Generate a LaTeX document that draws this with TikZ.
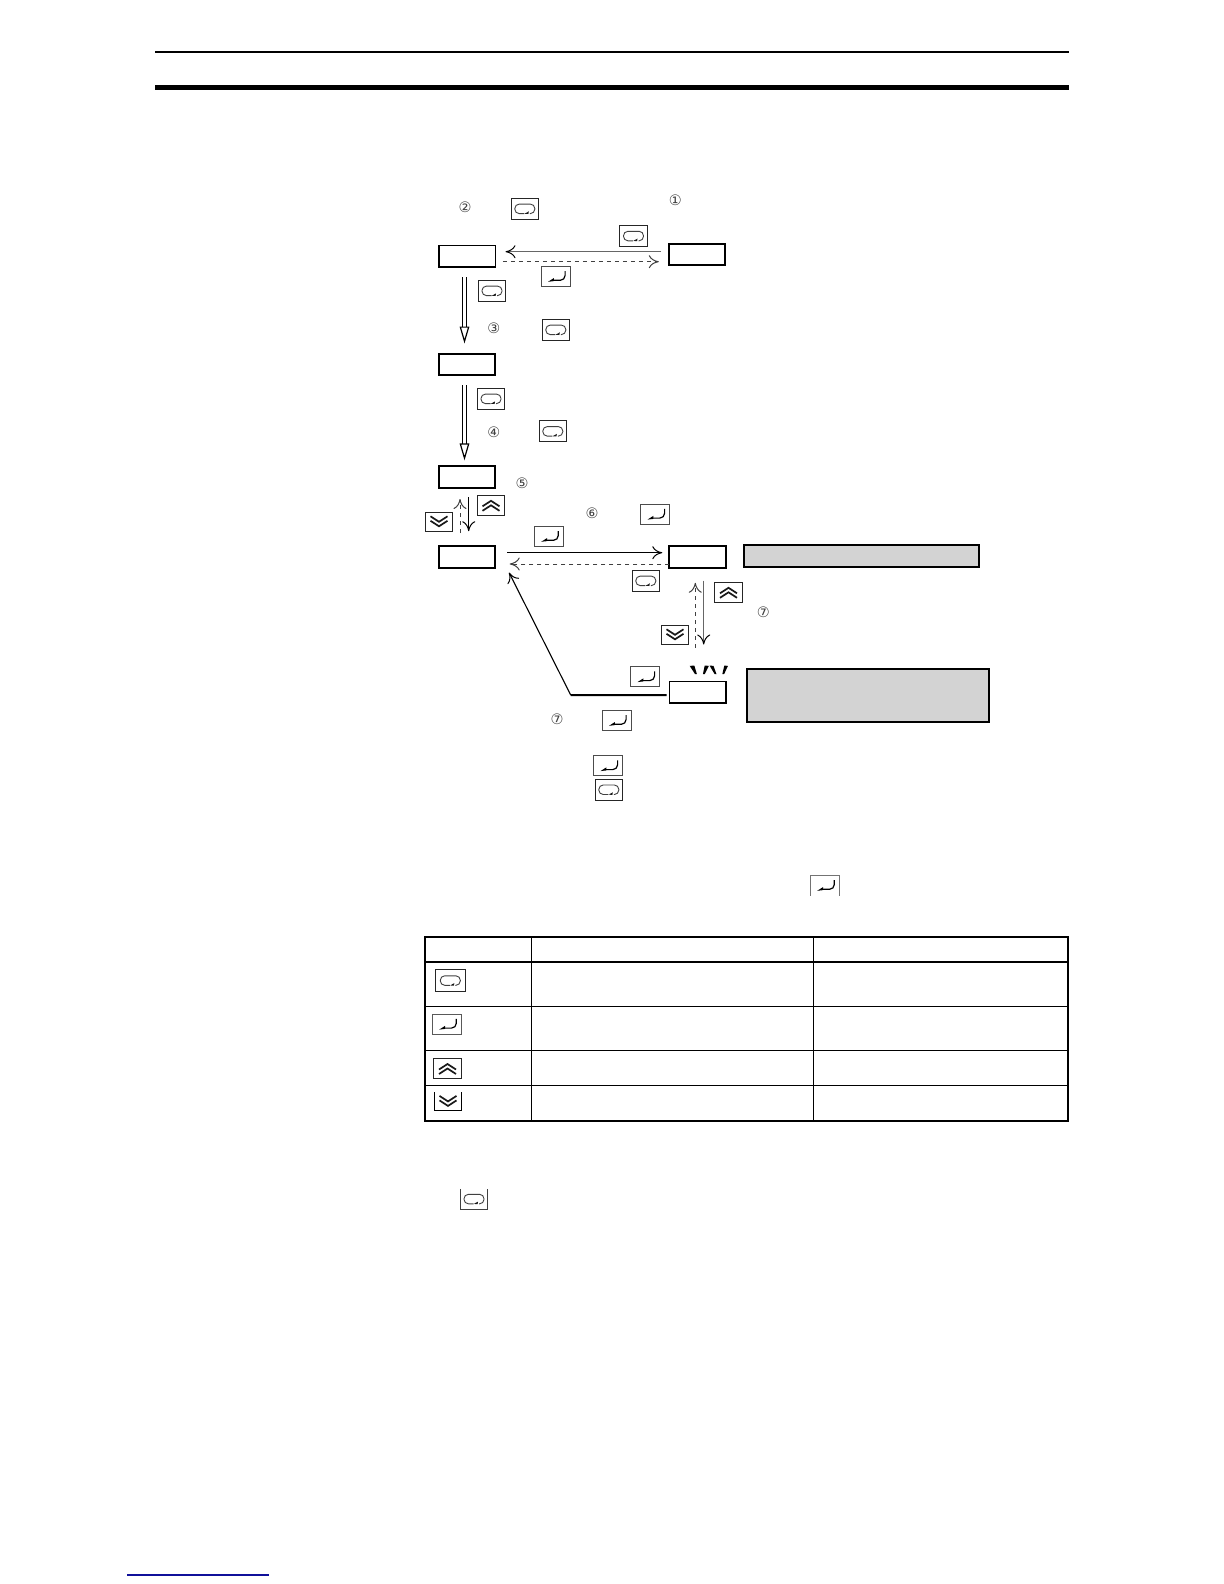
\documentclass[tikz,border=0pt]{standalone}
\usepackage{fontspec}
\newfontfamily\circfont{DejaVu Sans}
\usetikzlibrary{arrows.meta,calc}
\definecolor{panelgray}{HTML}{D3D3D3}
\definecolor{linkblue}{HTML}{10109A}
\tikzset{
  disp/.style={draw=black,line width=1pt,minimum width=28.2pt,minimum height=10.8pt,inner sep=0pt,outer sep=0pt,fill=white},
  panel/.style={draw=black,line width=1pt,fill=panelgray,inner sep=0pt,outer sep=0pt},
  keybox/.style={draw=black!85,line width=.5pt,inner sep=0pt,outer sep=0pt,minimum width=13.6pt,minimum height=10.4pt},
  keyopen/.style={inner sep=0pt,outer sep=0pt,minimum width=13.6pt,minimum height=10.4pt},
  keyedge/.style={draw=black!75,line width=.5pt},
  circnum/.style={inner sep=0pt,text=black!75,font=\circfont\fontsize{7.2pt}{8pt}\selectfont},
  solidflow/.style={draw=black,line width=.55pt,-{To[length=5pt,width=6.5pt,line width=.5pt]}},
  grayflow/.style={draw=black!60,line width=.75pt,-{To[length=5pt,width=6.5pt,black,line width=.5pt]}},
  dashflow/.style={draw=black!75,line width=.5pt,dash pattern=on 2.2pt off 1.8pt,-{To[length=5pt,width=6.5pt,line width=.5pt]}},
  hollowflow/.style={draw=black,line width=.55pt,double=white,double distance=1.7pt,-{Triangle[open,length=8.5pt,width=4.8pt,line width=.6pt,fill=white]}},
  tableouter/.style={draw=black,line width=.9pt},
  tableinner/.style={draw=black,line width=.5pt},
  modeglyph/.pic={
    \draw[black!75,line width=.45pt,rounded corners=2.2pt] (-.5,4.8)--(-10,4.8)--(-10,-4.7)--(10,-4.7)--(10,4.8)--(5,4.8);
    \fill[black!90] (-.2,4.9)--(4,2.6)--(3.6,5.2)--cycle;},
  enterglyph/.pic={
    \draw[black,line width=.6pt,rounded corners=2.4pt] (9.3,-5.5)--(9.3,3.8)--(-4,3.8);
    \fill[black] (-7.8,5.3)--(-2,1.6)--(-2,4.6)--cycle;},
  upglyph/.pic={
    \draw[black!90,line width=.85pt] (-8.5,1)--(0,-4.5)--(8.5,1);
    \draw[black!90,line width=.85pt] (-8.5,5.5)--(0,0)--(8.5,5.5);},
  downglyph/.pic={
    \draw[black!90,line width=.85pt] (-8.5,-5.5)--(0,0)--(8.5,-5.5);
    \draw[black!90,line width=.85pt] (-8.5,-1)--(0,4.5)--(8.5,-1);},
}
\newcommand{\modekey}[3]{\node[keybox] (#1) at (#2,#3) {}; \pic at (#1.center) {modeglyph};}
\newcommand{\enterkey}[3]{\node[keybox,draw=black!70,minimum width=14.4pt,minimum height=10pt] (#1) at (#2,#3) {}; \pic at (#1.center) {enterglyph};}
\newcommand{\upkey}[3]{\node[keybox,minimum width=13.9pt,minimum height=10pt] (#1) at (#2,#3) {}; \pic at (#1.center) {upglyph};}
\newcommand{\downkey}[3]{\node[keybox,minimum width=13.7pt,minimum height=9.6pt] (#1) at (#2,#3) {}; \pic at (#1.center) {downglyph};}
\begin{document}
\begin{tikzpicture}[x=.5pt,y=-.5pt]
\useasboundingbox (0,0) rectangle (1224,1584);
% page rules
\coordinate (ruleL) at (155,52);
\coordinate (ruleR) at (1069,52);
\draw[black,line width=1pt] (ruleL)--(ruleR);
\draw[black,line width=2.6pt] ($(ruleL)+(0,35.3)$)--($(ruleR)+(0,35.3)$);
% displays
\node[disp,line width=.7pt] (A) at (467,256.3) {};
\node[disp] (B) at (697,254.3) {};
\node[disp] (C) at (467,364.3) {};
\node[disp] (D) at (467,477.2) {};
\node[disp] (E) at (467,557) {};
\node[disp] (F) at (697.5,557) {};
\node[disp,line width=.8pt] (G) at (697.5,692.3) {};
% panels
\node[panel,minimum width=117.2pt,minimum height=11.2pt] (P1) at (861.5,556) {};
\node[panel,minimum width=120.9pt,minimum height=26.6pt] (P2) at (868.2,695.5) {};
% circled numbers
\node[circnum] (c1) at (675.3,200) {①};
\node[circnum] (c2) at (465,207.3) {②};
\node[circnum] (c3) at (493.7,328.7) {③};
\node[circnum] (c4) at (493.7,432.7) {④};
\node[circnum] (c5) at (522,483) {⑤};
\node[circnum] (c6) at (592,513.3) {⑥};
\node[circnum] (c7) at (557,719.3) {⑦};
\node[circnum] (c8) at (763.3,612.3) {⑦};
% keys
\modekey{k1}{524.8}{208.8}
\modekey{k2}{633.5}{236}
\enterkey{k3}{555.8}{276.5}
\modekey{k4}{492}{290.8}
\modekey{k5}{555.8}{329.8}
\modekey{k6}{491}{398.8}
\modekey{k7}{552.8}{431.3}
\upkey{k8}{491}{505.3}
\downkey{k9}{439}{521.8}
\enterkey{k10}{655.3}{514.3}
\enterkey{k11}{549}{536.5}
\modekey{k12}{645.8}{580.8}
\upkey{k13}{728.5}{592.3}
\downkey{k14}{675}{634.8}
\enterkey{k15}{645.3}{676.8}
\enterkey{k16}{616.8}{720.5}
\enterkey{k17}{608.3}{765.8}
\modekey{k18}{608.8}{789.7}
% connectors
\draw[grayflow] ($(B.west)+(-7.6,-2.6)$)--($(A.east)+(10.3,-4.6)$);
\draw[dashflow] ($(A.east)+(7.6,5.4)$)--($(B.west)+(-10,7.4)$);
\draw[hollowflow] ($(A.south)+(-2.5,10)$)--($(C.north)+(-2.5,-10)$);
\draw[hollowflow] ($(C.south)+(-2.5,10)$)--($(D.north)+(-2.5,-6)$);
\draw[solidflow] ($(D.south)+(1.7,9)$)--($(E.north)+(1.7,-15)$);
\draw[dashflow] ($(E.north)+(-7,-13)$)--($(D.south)+(-7,11)$);
\draw[solidflow] ($(E.east)+(11.8,-4.3)$)--($(F.west)+(-7,-4.3)$);
\draw[dashflow] ($(F.west)+(0,7)$)--($(E.east)+(14.5,7)$);
\draw[dashflow] ($(G.north)+(-2.2,-33.6)$)--($(F.south)+(-2.2,15)$);
\draw[grayflow] ($(F.south)+(6.2,12.7)$)--($(G.north)+(6.2,-37)$);
\coordinate (bend) at (570.7,695);
\draw[black,line width=1pt] ($(G.west)+(-2.6,2.7)$)--(bend);
\draw[solidflow] (bend)--($(E.east)+(13.8,15.5)$);
% blink marks above the last display
\fill[black] ($(G.north)+(-7.8,-15.6)$)--($(G.north)+(-3.2,-16)$)--($(G.north)+(-.6,-7.3)$)--($(G.north)+(-2.4,-7.3)$)--cycle;
\fill[black] ($(G.north)+(7.2,-16)$)--($(G.north)+(11.4,-15.6)$)--($(G.north)+(7.2,-7.3)$)--($(G.north)+(5.4,-7.3)$)--cycle;
\fill[black] ($(G.north)+(12,-16)$)--($(G.north)+(16,-15.6)$)--($(G.north)+(19,-7.3)$)--($(G.north)+(17.2,-7.3)$)--cycle;
\fill[black] ($(G.north)+(26.8,-16)$)--($(G.north)+(30.4,-15.6)$)--($(G.north)+(26.6,-7.3)$)--($(G.north)+(24.8,-7.3)$)--cycle;
% inline keys with one open side
\node[keyopen,minimum width=14.7pt,minimum height=10.2pt] (k19) at (825,885.5) {};
\draw[keyedge,draw=black!55] (k19.south west)--(k19.north west)--(k19.north east)--(k19.south east);
\pic at (k19.center) {enterglyph};
\node[keyopen,minimum width=13.3pt,minimum height=10.2pt] (k20) at (474,1199) {};
\draw[keyedge,line width=.6pt] (k20.north west)--(k20.south west)--(k20.south east)--(k20.north east);
\pic at (k20.center) {modeglyph};
% table
\coordinate (tTL) at (425,937);
\coordinate (tBR) at (1068.3,1120.7);
\coordinate (col1) at (531.7,937);
\coordinate (col2) at (813.3,937);
\draw[tableinner] (col1)--(col1|-tBR);
\draw[tableinner] (col2)--(col2|-tBR);
\draw[tableouter] (425,961.7)--(1068.3,961.7);
\draw[tableinner,line width=.45pt] (425,1006.3)--(1068.3,1006.3);
\draw[tableinner,line width=.45pt] (425,1050.3)--(1068.3,1050.3);
\draw[tableinner,line width=.45pt] (425,1085.3)--(1068.3,1085.3);
\draw[tableouter] (tTL) rectangle (tBR);
\node[keybox,line width=.55pt,minimum width=15pt,minimum height=11.2pt] (t1) at (450.3,980.5) {};
\pic at (t1.center) {modeglyph};
\node[keybox,draw=black!65,minimum width=14.7pt,minimum height=10pt] (t2) at (447,1024.3) {};
\pic at (t2.center) {enterglyph};
\node[keybox,minimum width=14.2pt,minimum height=10.2pt] (t3) at (447.5,1068.5) {};
\pic at (t3.center) {upglyph};
\node[keyopen,minimum width=13.7pt,minimum height=9.4pt] (t4) at (448,1101.4) {};
\draw[keyedge,draw=black] (t4.north west)--(t4.south west)--(t4.south east)--(t4.north east);
\pic at (t4.center) {downglyph};
% footer link rule
\coordinate (linkL) at (127,1575);
\coordinate (linkR) at (269,1575);
\draw[linkblue,line width=.6pt] (linkL)--(linkR);
\end{tikzpicture}
\end{document}
